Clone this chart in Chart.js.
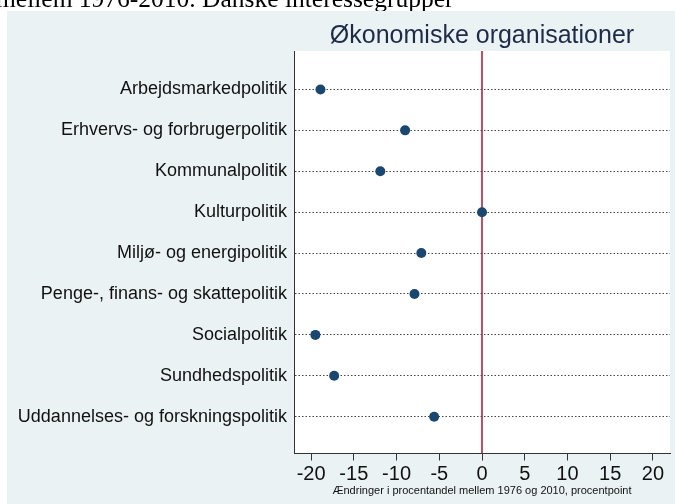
<!DOCTYPE html>
<html>
<head>
<meta charset="utf-8">
<script src="https://cdn.jsdelivr.net/npm/chart.js@4"></script>
<style>
  html, body { margin: 0; padding: 0; background: #fff; }
  #wrap { position: relative; width: 675px; height: 504px; }
  #chart { position: absolute; left: 0; top: 0; }
  #above {
    position: absolute; left: 0; top: 0; width: 675px; height: 11px;
    overflow: hidden; z-index: 2;
  }
  #above span {
    position: absolute; left: -4px; top: -14px; white-space: nowrap;
    font: 25.5px/25px "Liberation Serif", "Times New Roman", serif; color: #000;
  }
</style>
</head>
<body>
<div id="wrap">
  <div id="above"><span>mellem 1976-2010. Danske interessegrupper</span></div>
  <canvas id="chart" width="675" height="504"></canvas>
</div>
<script>
// data
const categories = [
  "Arbejdsmarkedpolitik",
  "Erhvervs- og forbrugerpolitik",
  "Kommunalpolitik",
  "Kulturpolitik",
  "Miljø- og energipolitik",
  "Penge-, finans- og skattepolitik",
  "Socialpolitik",
  "Sundhedspolitik",
  "Uddannelses- og forskningspolitik"
];
const changes = [-18.9, -9.0, -11.9, 0.0, -7.1, -7.9, -19.5, -17.3, -5.6];
const xTicks = [-20, -15, -10, -5, 0, 5, 10, 15, 20];
const refLine = 0;
const panelTitle = "Økonomiske organisationer";
const xTitle = "Ændringer i procentandel mellem 1976 og 2010, procentpoint";

const yMin = -0.94, yMax = 8.9;
const font = '"Liberation Sans", Arial, sans-serif';

const background = {
  id: 'background',
  beforeDraw(chart) {
    const { ctx, chartArea: a } = chart;
    ctx.save();
    ctx.fillStyle = '#eaf2f3';
    ctx.fillRect(7, 11, chart.width - 7, chart.height - 11);
    ctx.fillStyle = '#ffffff';
    ctx.fillRect(a.left, a.top, a.right - a.left, a.bottom - a.top);
    ctx.restore();
  },
  afterDraw(chart) {
    const { ctx, chartArea: a } = chart;
    ctx.save();
    ctx.fillStyle = '#1e2b48';
    ctx.font = '25px ' + font;
    ctx.textAlign = 'center';
    ctx.textBaseline = 'alphabetic';
    ctx.fillText(panelTitle, (a.left + a.right) / 2, 43);
    ctx.restore();
  }
};

new Chart(document.getElementById('chart'), {
  type: 'scatter',
  data: {
    datasets: [
      {
        data: changes.map((v, i) => ({ x: v, y: i })),
        backgroundColor: '#1a476f',
        borderWidth: 0,
        pointRadius: 5,
        order: 0
      },
      {
        type: 'line',
        data: [{ x: refLine, y: yMin }, { x: refLine, y: yMax }],
        borderColor: '#b3243a',
        borderWidth: 1.6,
        pointRadius: 0,
        order: 1
      }
    ]
  },
  options: {
    responsive: false,
    animation: false,
    layout: { padding: { top: 51, right: 3, left: 0, bottom: 0 } },
    plugins: { legend: { display: false }, tooltip: { enabled: false } },
    scales: {
      x: {
        type: 'linear',
        min: -22, max: 22,
        afterBuildTicks: s => { s.ticks = xTicks.map(v => ({ value: v })); },
        afterFit: s => { s.height = 50.5; },
        grid: { drawOnChartArea: false, drawTicks: true, tickLength: 7, tickColor: '#333', tickWidth: 1 },
        border: { display: true, color: '#333', width: 1 },
        ticks: { color: '#111', font: { family: font, size: 20 }, padding: 2, maxRotation: 0 },
        title: {
          display: true, text: xTitle, color: '#111',
          font: { family: font, size: 11 }, padding: { top: 0, bottom: 6 }
        }
      },
      y: {
        type: 'linear',
        reverse: true,
        min: yMin, max: yMax,
        afterBuildTicks: s => { s.ticks = categories.map((c, i) => ({ value: i })); },
        afterFit: s => { s.width = 294; },
        grid: { drawTicks: false, color: '#444', lineWidth: 1 },
        border: { display: true, color: '#333', width: 1, dash: [1.5, 2] },
        ticks: {
          color: '#111', font: { family: font, size: 18 }, padding: 7,
          callback: v => categories[v]
        }
      }
    }
  },
  plugins: [background]
});
</script>
</body>
</html>
